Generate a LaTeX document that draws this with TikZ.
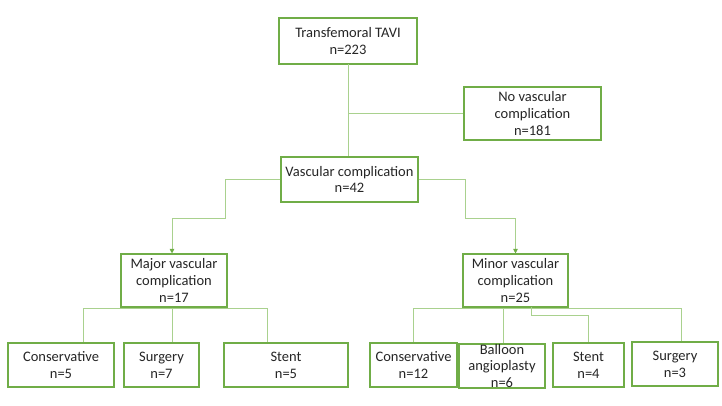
\documentclass[tikz,border=0pt]{standalone}
\usepackage{fontspec}
\setmainfont{Carlito}
\usetikzlibrary{arrows.meta}
\definecolor{boxgreen}{RGB}{112,173,71}
\definecolor{linegreen}{RGB}{169,209,142}
\definecolor{txt}{RGB}{38,38,38}
\tikzset{
  fbox/.style={draw=boxgreen, line width=1.1pt, fill=white, text=txt, align=center,
    inner sep=0pt, font=\fontsize{14.5}{16.8}\selectfont},
  conn/.style={draw=linegreen, line width=0.9pt},
  arr/.style={conn, -{Triangle[length=4.5pt,width=4.5pt,color=boxgreen]}}
}
\begin{document}
\begin{tikzpicture}[x=1pt,y=-1pt]
\useasboundingbox (0,0) rectangle (722,405);
% nodes
\node[fbox, minimum width=138pt, minimum height=46pt] (top) at (348,41) {Transfemoral TAVI\\n=223};
\node[fbox, minimum width=137pt, minimum height=53pt] (novasc) at (532.5,113.5) {No vascular\\complication\\n=181};
\node[fbox, minimum width=137pt, minimum height=45pt] (vasc) at (349.5,179.5) {Vascular complication\\n=42};
\node[fbox, minimum width=106pt, minimum height=53pt] (major) at (174,280.5) {Major vascular\\complication\\n=17};
\node[fbox, minimum width=105pt, minimum height=53pt] (minor) at (515.5,280.5) {Minor vascular\\complication\\n=25};
\node[fbox, minimum width=106pt, minimum height=44pt] (lc) at (61,365) {Conservative\\n=5};
\node[fbox, minimum width=75pt, minimum height=44pt] (ls) at (161.5,365) {Surgery\\n=7};
\node[fbox, minimum width=124pt, minimum height=44pt] (lst) at (286,365) {Stent\\n=5};
\node[fbox, minimum width=87pt, minimum height=44pt] (rc) at (413.5,365) {Conservative\\n=12};
\node[fbox, minimum width=86pt, minimum height=44pt, yshift=-1pt] (rb) at (502,365) {Balloon\\angioplasty\\n=6};
\node[fbox, minimum width=71pt, minimum height=44pt] (rst) at (588.5,365) {Stent\\n=4};
\node[fbox, minimum width=86pt, minimum height=44pt] (rsu) at (675,364) {Surgery\\n=3};
% coordinates
\coordinate (t1) at (348,64);
\coordinate (mj1) at (83,308);
\coordinate (mj2) at (172,308);
\coordinate (mj3) at (267,308);
\coordinate (mn1) at (413,308);
\coordinate (mn2) at (503,308);
\coordinate (mn3) at (681,308);
\coordinate (mn4) at (531,307);
\coordinate (mn5) at (531,315);
\coordinate (mn6) at (588,315);
% connectors
\draw[conn] (t1) -- (t1 |- vasc.north);
\draw[conn] (t1 |- novasc.west) -- (novasc.west);
\draw[arr] (vasc.west) -- ++(-55,0) -- ++(0,39) -| ([xshift=-2pt]major.north);
\draw[arr] (vasc.east) -- ++(47,0) -- ++(0,39) -| (minor.north);
\draw[conn] (mj1) -- (mj3);
\draw[conn] (mj1) -- (mj1 |- lc.north);
\draw[conn] (mj2) -- (mj2 |- ls.north);
\draw[conn] (mj3) -- (mj3 |- lst.north);
\draw[conn] (mn1) -- (mn3);
\draw[conn] (mn1) -- (mn1 |- rc.north);
\draw[conn] (mn2) -- (mn2 |- rb.north);
\draw[conn] (mn3) -- (mn3 |- rsu.north);
\draw[conn] (mn4) -- (mn5) -- (mn6) -- (mn6 |- rst.north);
\end{tikzpicture}
\end{document}
